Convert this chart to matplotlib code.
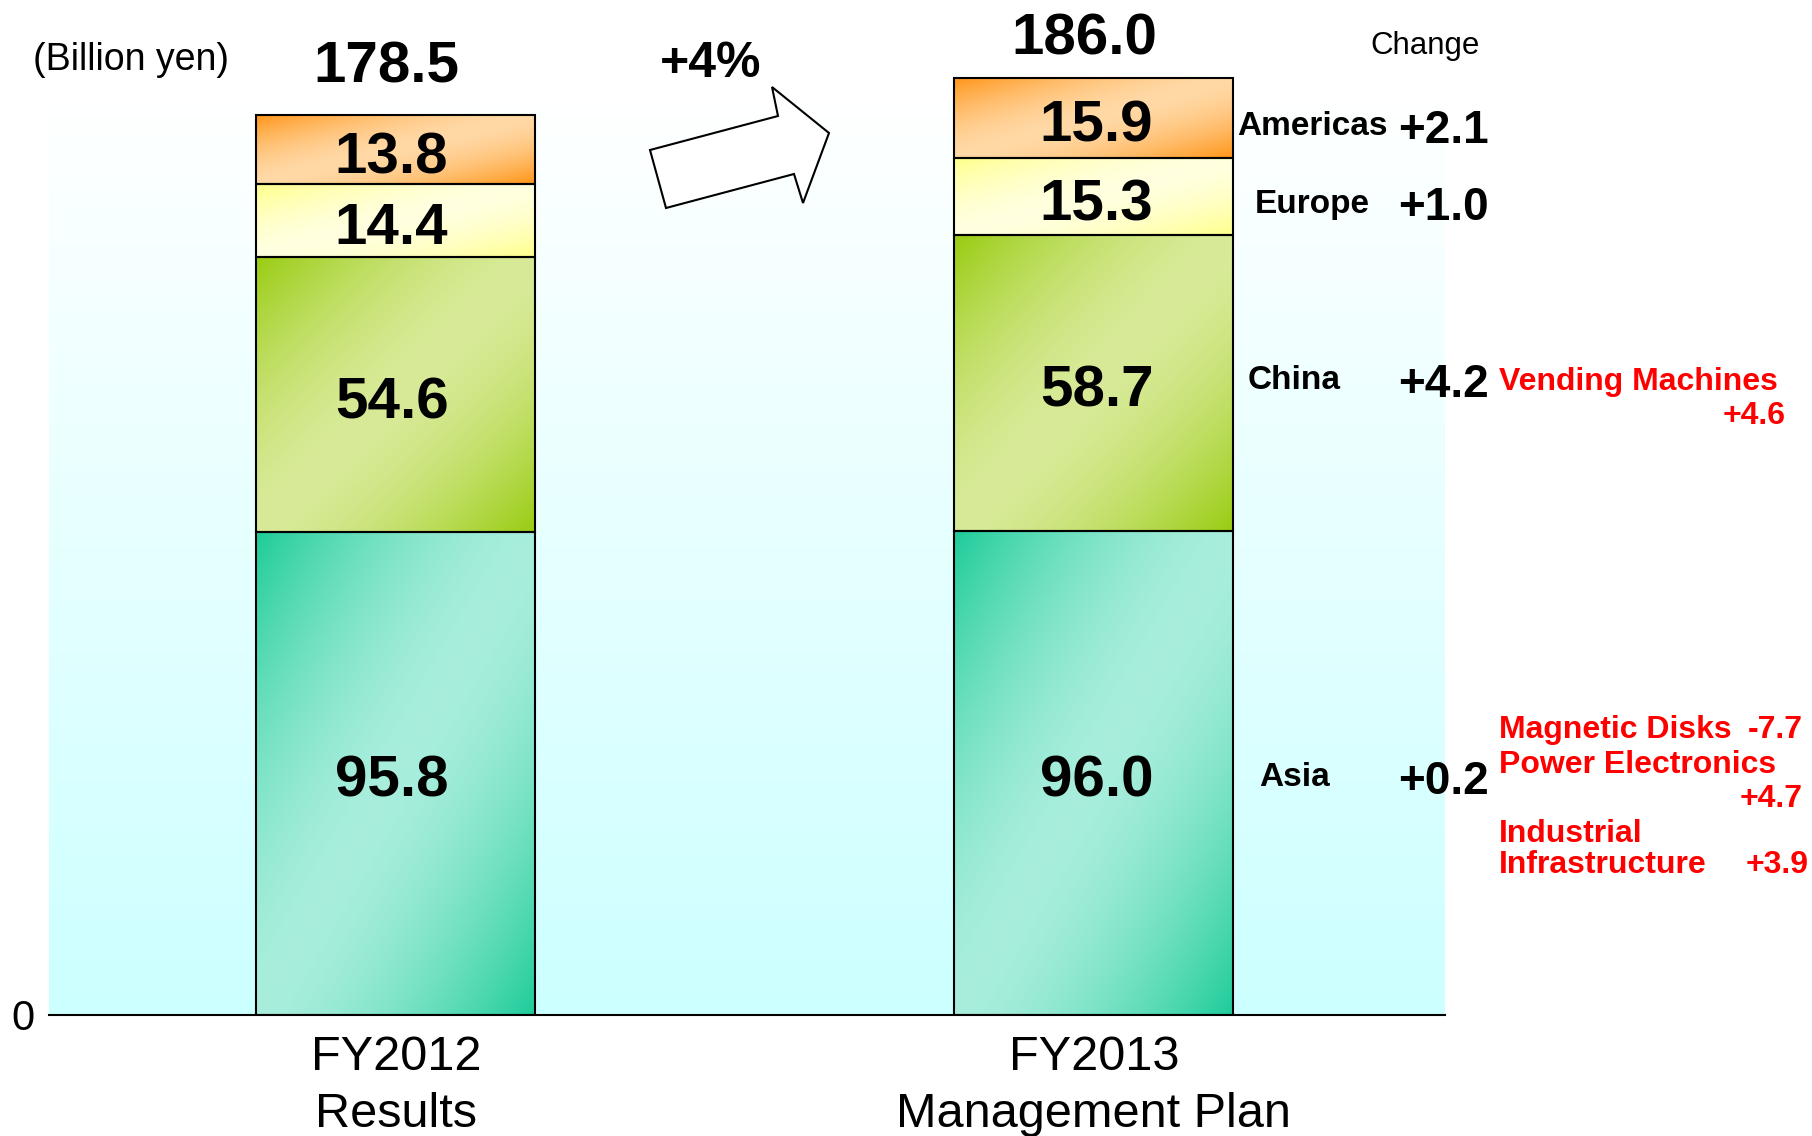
import numpy as np
import matplotlib
matplotlib.use('Agg')
import matplotlib.pyplot as plt
from matplotlib.patches import Polygon
from matplotlib.colors import to_rgb

plt.rcParams['font.family'] = ['Liberation Sans', 'DejaVu Sans']

# data
categories = ['FY2012\nResults', 'FY2013\nManagement Plan']
regions = ['Asia', 'China', 'Europe', 'Americas']
asia = [95.8, 96.0]
china = [54.6, 58.7]
europe = [14.4, 15.3]
americas = [13.8, 15.9]
totals = [178.5, 186.0]
changes = ['+0.2', '+4.2', '+1.0', '+2.1']
growth = '+4%'

# colours (dark corner, light middle) for each region
dark = {'Asia': '#1ecc99', 'China': '#99cc11', 'Europe': '#ffff8a', 'Americas': '#ff9416'}
light = {'Asia': '#a9eedd', 'China': '#d8ea98', 'Europe': '#ffffe0', 'Americas': '#ffd9a6'}


def grad_fill(ax, patch, c_dark, c_light):
    x0, y0 = patch.get_x(), patch.get_y()
    w, h = patch.get_width(), patch.get_height()
    u = np.linspace(0, 1, 200)
    U, V = np.meshgrid(u, u)
    s = np.abs(U + V - 1) ** 1.6
    d = np.array(to_rgb(c_dark))
    l = np.array(to_rgb(c_light))
    img = l + (d - l) * s[..., None]
    ax.imshow(img, extent=(x0, x0 + w, y0, y0 + h), origin='upper',
              aspect='auto', interpolation='bilinear', zorder=2)


fig = plt.figure(figsize=(18.12, 11.36), dpi=100)
ax = fig.add_axes([0.0268, 0.1069, 0.7704, 0.8868])

x = np.arange(len(categories))
xmin, xmax = -0.4975, 1.5025

# background plot area gradient
bg = np.linspace(0, 1, 200)[:, None, None]
bg_img = np.array(to_rgb('#ffffff')) + (np.array(to_rgb('#ccffff')) - np.array(to_rgb('#ffffff'))) * bg
bg_img = np.repeat(bg_img, 2, axis=1)
ax.imshow(bg_img, extent=(xmin, xmax, 0, 182), origin='upper', aspect='auto', zorder=0)

series = {'Asia': asia, 'China': china, 'Europe': europe, 'Americas': americas}
label_dx = [-0.006, 0.004]
bottom = np.zeros(len(categories))
seg_centers = {}
for reg in regions:
    vals = np.array(series[reg])
    bars = ax.bar(x, vals, width=0.4, bottom=bottom, fill=False,
                  edgecolor='black', linewidth=1.5, zorder=3)
    for p in bars.patches:
        grad_fill(ax, p, dark[reg], light[reg])
    for xi, v, b, dx in zip(x, vals, bottom, label_dx):
        ax.text(xi + dx, b + v / 2 - 1.7, f'{v:.1f}', ha='center', va='center',
                fontsize=42, fontweight='bold', zorder=4)
    seg_centers[reg] = bottom[1] + vals[1] / 2
    bottom = bottom + vals

# totals above bars
total_offsets = [9.6, 7.6]
for xi, t, off in zip(x, totals, total_offsets):
    ax.text(xi - 0.013, t + off, f'{t:.1f}', ha='center', va='center',
            fontsize=42, fontweight='bold', clip_on=False)

ax.text(0.451, 188.7, growth, ha='center', va='center', fontsize=36, fontweight='bold')

# region names and changes on the right
label_x = {'Asia': 1.287, 'China': 1.287, 'Europe': 1.3137, 'Americas': 1.3137}
label_dy = {'Asia': -1.5, 'China': 0.0, 'Europe': -2.0, 'Americas': -2.2}
for reg, ch in zip(regions, changes):
    y = seg_centers[reg] + label_dy[reg]
    ax.text(label_x[reg], y + 0.5, reg, ha='center', va='center',
            fontsize=24, fontweight='bold', clip_on=False)
    ax.text(1.436, y - 0.3, ch, ha='left', va='center',
            fontsize=33, fontweight='bold', clip_on=False)

ax.text(1.474, 192.3, 'Change', ha='center', va='center', fontsize=22.5, clip_on=False)

# breakdown notes in red
red = '#ff0000'
notes = [
    (1.580, 125.5, 'Vending Machines', 'left'),
    (1.991, 118.8, '+4.6', 'right'),
    (1.580, 56.4, 'Magnetic Disks', 'left'),
    (2.016, 56.4, '-7.7', 'right'),
    (1.580, 49.6, 'Power Electronics', 'left'),
    (2.016, 42.7, '+4.7', 'right'),
    (1.580, 35.8, 'Industrial', 'left'),
    (1.580, 29.6, 'Infrastructure', 'left'),
    (2.024, 29.6, '+3.9', 'right'),
]
for nx, ny, txt, ha in notes:
    ax.text(nx, ny, txt, ha=ha, va='center', color=red, fontsize=23,
            fontweight='bold', clip_on=False)

fig.text(131 / 1812, 1 - 60 / 1136, '(Billion yen)', ha='center', va='center', fontsize=27)

# block arrow between bars (figure pixel outline)
arrow_px = [(650, 150), (778, 116), (772, 87), (829, 133), (803, 203), (794, 174), (666, 208)]
arrow = Polygon([(px / 1812, 1 - py / 1136) for px, py in arrow_px], closed=True,
                facecolor='white', edgecolor='black', linewidth=1.5,
                transform=fig.transFigure)
fig.patches.append(arrow)

ax.set_xlim(xmin, xmax)
ax.set_ylim(0, 200)
ax.set_xticks(x)
ax.set_xticklabels(categories, fontsize=35, linespacing=1.33)
ax.set_yticks([0])
ax.set_yticklabels(['0'], fontsize=30)
ax.tick_params(axis='both', length=0)
ax.tick_params(axis='x', pad=15)
ax.tick_params(axis='y', pad=10)
for side in ['top', 'right', 'left']:
    ax.spines[side].set_visible(False)
ax.spines['bottom'].set_linewidth(1.5)
ax.spines['bottom'].set_zorder(5)
ax.set_facecolor('none')

fig.savefig('out.png', dpi=100)
